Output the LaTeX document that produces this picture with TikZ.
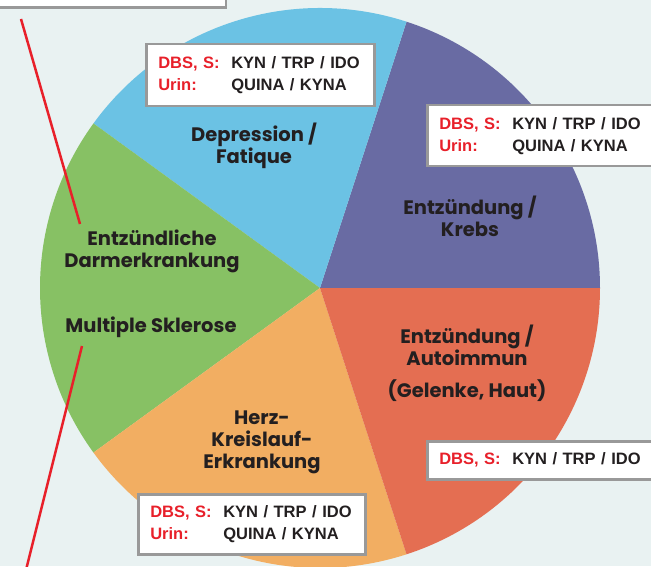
\documentclass[tikz,border=0pt]{standalone}
\usepackage{fontspec}
\setmainfont{Poppins}
\newfontfamily\boxfont{Liberation Sans}

\definecolor{bgcyan}{HTML}{E9F2F2}
\definecolor{slicepurple}{HTML}{696BA3}
\definecolor{sliceblue}{HTML}{6BC2E4}
\definecolor{slicegreen}{HTML}{87C164}
\definecolor{sliceorange}{HTML}{F2AE62}
\definecolor{slicered}{HTML}{E46E52}
\definecolor{labelink}{HTML}{231F20}
\definecolor{keyred}{HTML}{E8202A}
\definecolor{boxgray}{HTML}{999999}

\tikzset{
  slicelabel/.style={font=\fontsize{19.5}{22}\selectfont\bfseries, text=labelink, align=center, inner sep=0pt},
  infobox/.style={draw=boxgray, line width=2.5pt, fill=white, anchor=north west,
    font=\boxfont\fontsize{16.5}{22}\selectfont\bfseries, text=labelink,
    align=left, inner xsep=12pt, inner ysep=0pt, text width=#1-24pt, minimum width=#1},
  redline/.style={draw=keyred, line width=2.5pt},
}

\newcommand{\dbsrow}[2]{\makebox[73pt][l]{\textcolor{keyred}{#1}}#2}

\begin{document}
\begin{tikzpicture}[x=1pt,y=1pt]
  \useasboundingbox (0,0) rectangle (651,566);
  \clip (0,0) rectangle (651,566);
  \fill[bgcyan] (0,0) rectangle (651,566);

  % pie, five equal slices
  \coordinate (mid) at (320,278);
  \foreach \a/\c in {0/slicepurple, 72/sliceblue, 144/slicegreen, 216/sliceorange, 288/slicered} {
    \fill[\c] (mid) -- ++(\a:280) arc[start angle=\a, delta angle=72, radius=280] -- cycle;
  }

  % slice labels
  \node[slicelabel] (dep) at (254,420) {Depression /\\Fatique};
  \node[slicelabel] (krebs) at (470,350) {Entzündung /\\Krebs};
  \node[slicelabel] (auto) at (467,203) {Entzündung /\\Autoimmun\\[10pt](Gelenke, Haut)};
  \node[slicelabel] (herz) at (262,124) {Herz-\\Kreislauf-\\Erkrankung};
  \node[slicelabel] (ibd) at (152,315) {Entzündliche\\Darmerkrankung};
  \node[slicelabel] (ms) at (151,239) {Multiple Sklerose};

  % marker boxes
  \node[infobox=260pt, minimum height=40pt, anchor=south east] (topbox) at (227,557) {};
  \node[infobox=228pt, minimum height=62pt] (depbox) at (145,523)
    {\dbsrow{DBS, S:}{KYN / TRP / IDO}\\\dbsrow{Urin:}{QUINA / KYNA}};
  \node[infobox=240pt, minimum height=61pt] (krebsbox) at (426,462)
    {\dbsrow{DBS, S:}{KYN / TRP / IDO}\\\dbsrow{Urin:}{QUINA / KYNA}};
  \node[infobox=240pt, minimum height=38pt] (autobox) at (426,126)
    {\dbsrow{DBS, S:}{KYN / TRP / IDO}};
  \node[infobox=227pt, minimum height=60pt] (herzbox) at (137,73)
    {\dbsrow{DBS, S:}{KYN / TRP / IDO}\\\dbsrow{Urin:}{QUINA / KYNA}};

  % red leaders
  \coordinate (ibdfrom) at (21,547);
  \coordinate (ibdto) at (80,342);
  \coordinate (msfrom) at (82,220);
  \coordinate (msto) at (22,-20);
  \draw[redline] (ibdfrom) -- (ibdto);
  \draw[redline] (msfrom) -- (msto);
\end{tikzpicture}
\end{document}
